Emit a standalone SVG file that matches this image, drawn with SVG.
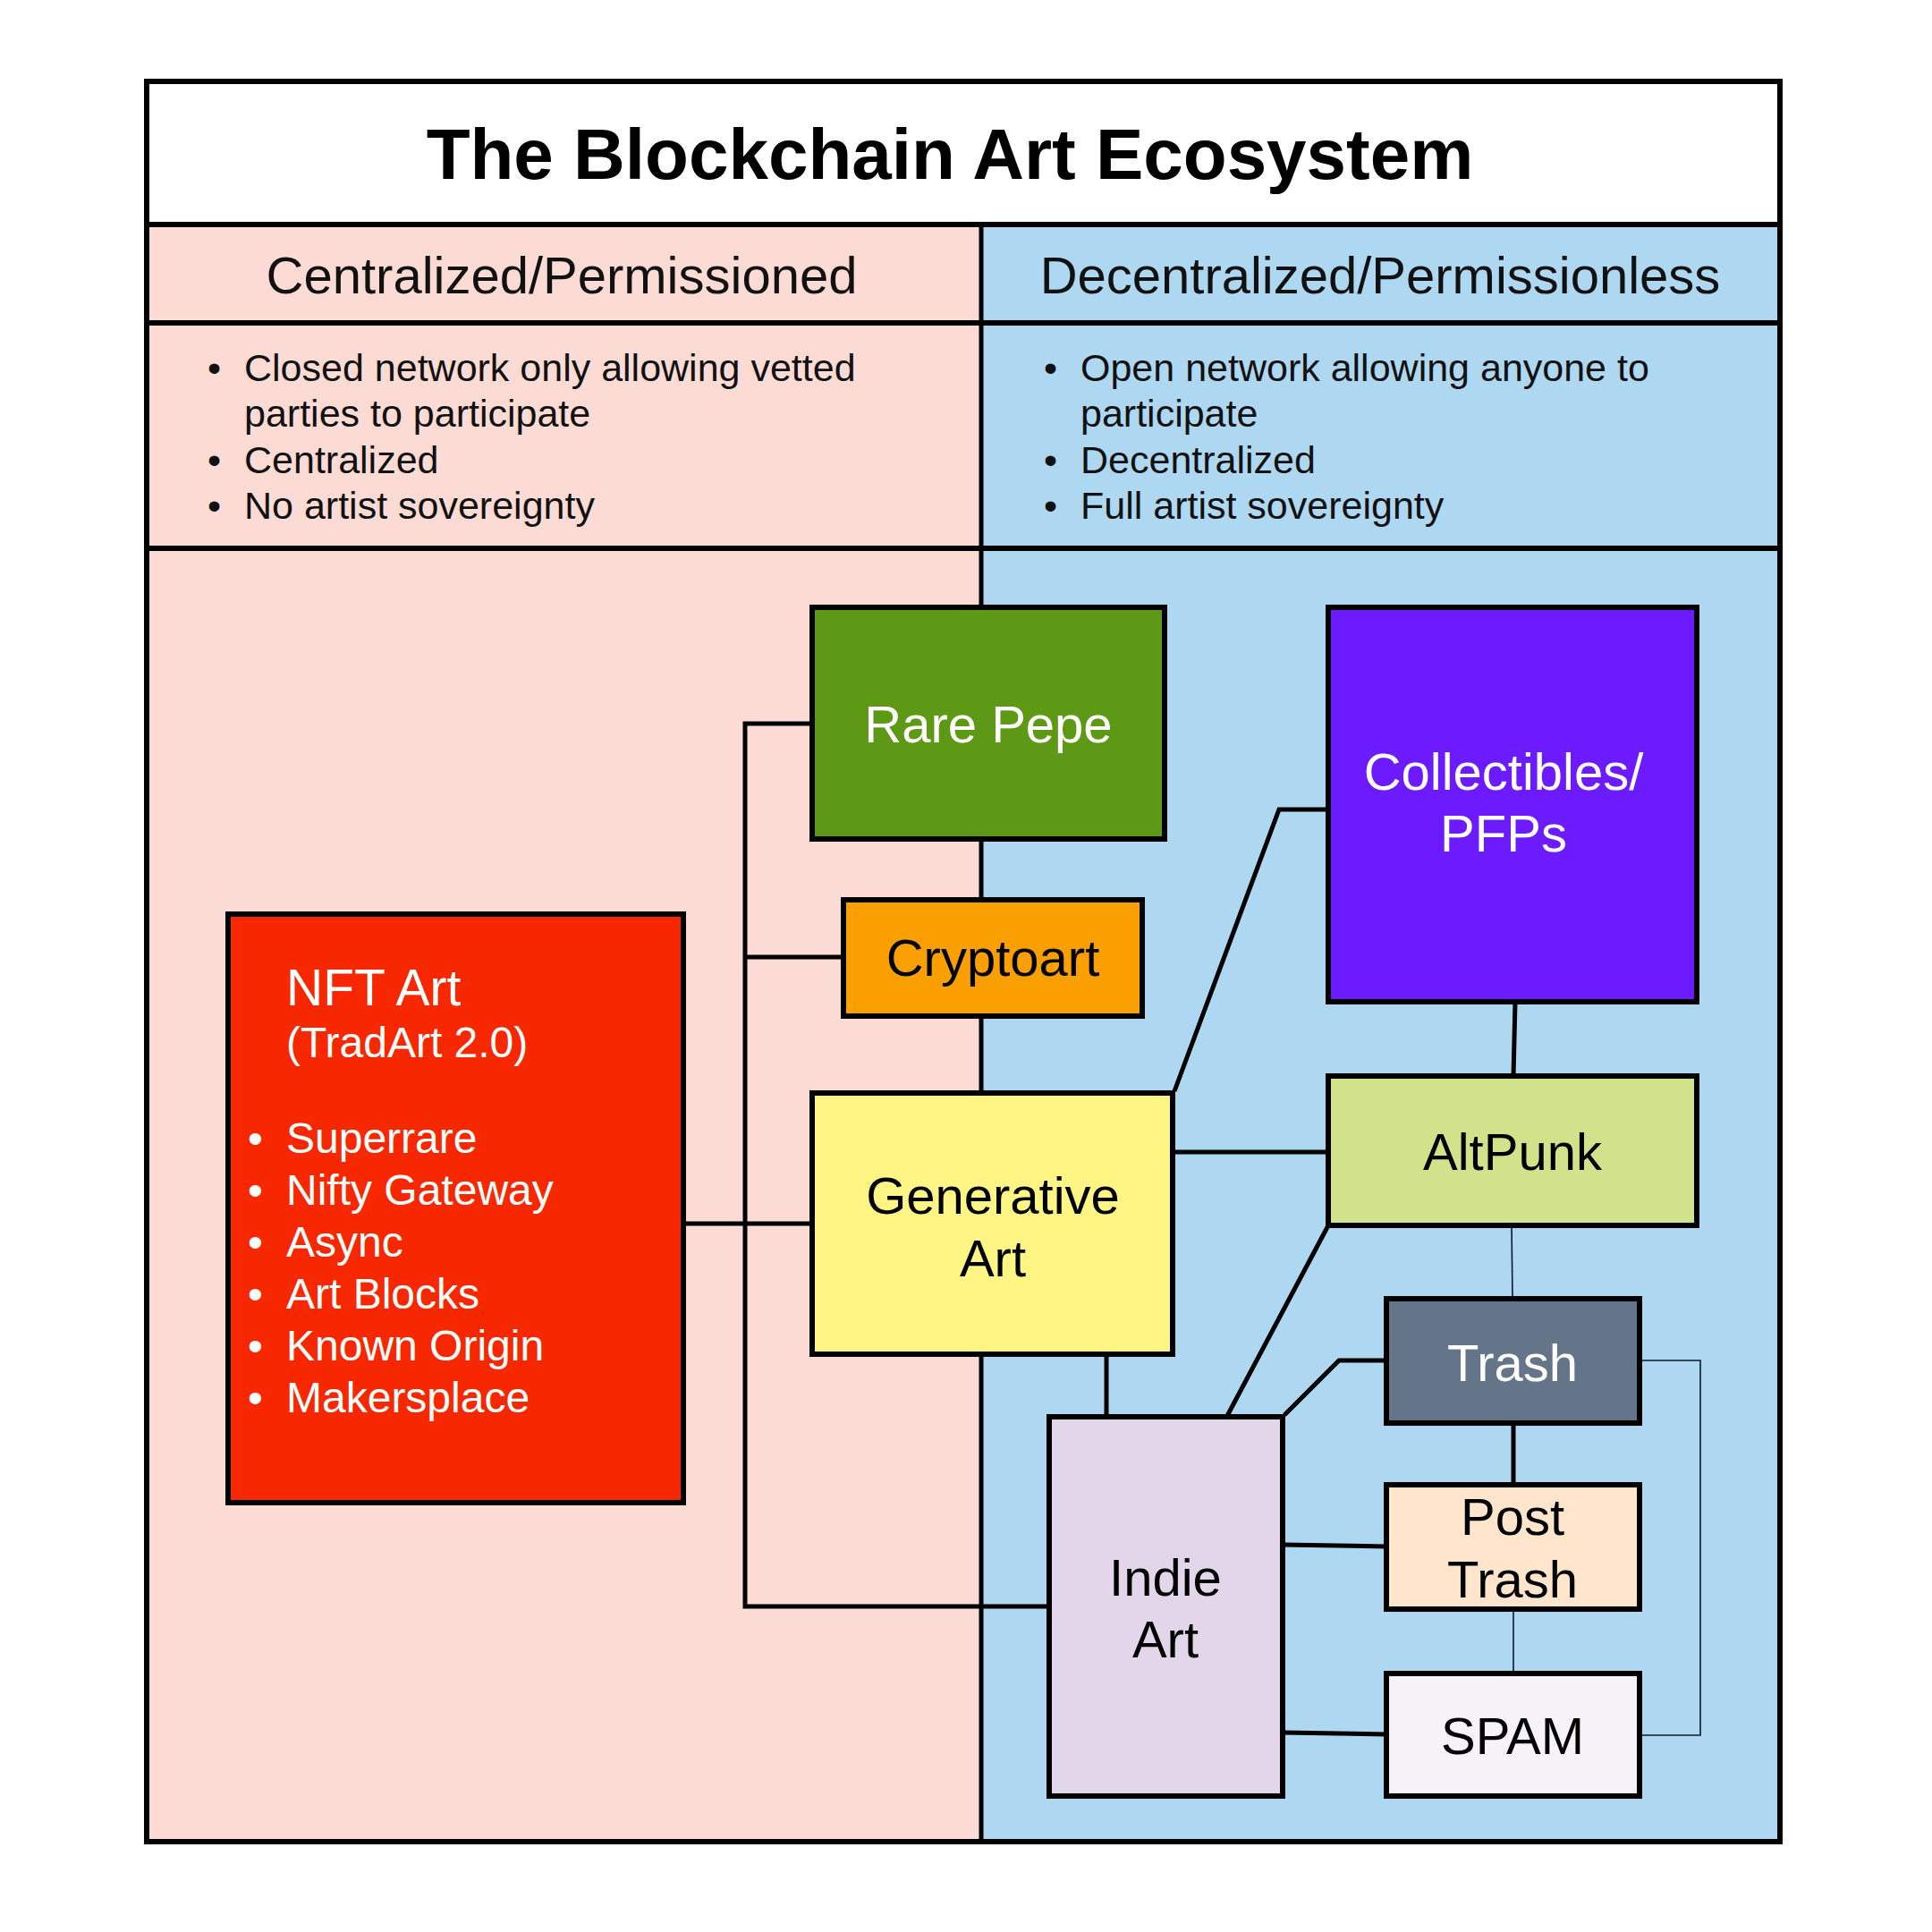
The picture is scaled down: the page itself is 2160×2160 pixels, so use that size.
<svg xmlns="http://www.w3.org/2000/svg" width="2160" height="2160" viewBox="0 0 2160 2160">
<style>
.t{font-family:"Liberation Sans",Arial,sans-serif}
.node rect{stroke:#000;stroke-width:6}
.lbl{font-family:"Liberation Sans",Arial,sans-serif;font-size:58px;text-anchor:middle}
.w{fill:#fff}.k{fill:#000}
.c{fill:none;stroke:#000;stroke-width:5}
.thin{fill:none;stroke:#0a1a2a;stroke-width:1.6}
.hb{font-family:"Liberation Sans",Arial,sans-serif;font-size:43px;fill:#111}
.nb{font-family:"Liberation Sans",Arial,sans-serif;font-size:48px;fill:#fff}
</style>
<rect width="2160" height="2160" fill="#fff"/>
<!-- panels -->
<rect x="164" y="251" width="933" height="1808" fill="#fddbd5"/>
<rect x="1097" y="251" width="893" height="1808" fill="#aed8f1"/>
<rect x="164" y="91" width="1826" height="160" fill="#fff"/>
<g fill="none" stroke="#000">
<rect x="164" y="91" width="1826" height="1968" stroke-width="6"/>
<line x1="164" y1="251" x2="1990" y2="251" stroke-width="6"/>
<line x1="164" y1="361" x2="1990" y2="361" stroke-width="6"/>
<line x1="164" y1="613" x2="1990" y2="613" stroke-width="6"/>
<line x1="1097" y1="251" x2="1097" y2="2059" stroke-width="5"/>
</g>
<text class="t" x="1062" y="200" font-size="80" font-weight="bold" text-anchor="middle">The Blockchain Art Ecosystem</text>
<text class="t" x="628" y="328" font-size="58" text-anchor="middle" fill="#111">Centralized/Permissioned</text>
<text class="t" x="1543" y="328" font-size="58" text-anchor="middle" fill="#111">Decentralized/Permissionless</text>
<g class="hb">
<text x="232" y="426">•</text><text x="273" y="426">Closed network only allowing vetted</text>
<text x="273" y="477">parties to participate</text>
<text x="232" y="529">•</text><text x="273" y="529">Centralized</text>
<text x="232" y="580">•</text><text x="273" y="580">No artist sovereignty</text>
<text x="1167" y="426">•</text><text x="1208" y="426">Open network allowing anyone to</text>
<text x="1208" y="477">participate</text>
<text x="1167" y="529">•</text><text x="1208" y="529">Decentralized</text>
<text x="1167" y="580">•</text><text x="1208" y="580">Full artist sovereignty</text>
</g>
<!-- connectors -->
<g id="connectors">
<polyline class="c" points="908,809 833,809 833,1796 1173,1796"/>
<line class="c" x1="833" y1="1070" x2="943" y2="1070"/>
<line class="c" x1="764" y1="1368" x2="908" y2="1368"/>
<line class="c" x1="1311" y1="1288" x2="1485" y2="1288"/>
<polyline class="c" points="1313,1220 1430,905 1485,905"/>
<line class="c" x1="1694" y1="1120" x2="1692" y2="1203"/>
<line class="c" x1="1484" y1="1372" x2="1372" y2="1583"/>
<line class="c" x1="1237" y1="1514" x2="1237" y2="1584"/>
<polyline class="c" points="1436,1582 1497,1521 1550,1521"/>
<line class="thin" x1="1690" y1="1370" x2="1691" y2="1452"/>
<line class="c" x1="1692" y1="1591" x2="1692" y2="1660"/>
<line class="thin" x1="1692" y1="1799" x2="1692" y2="1871"/>
<line class="c" x1="1434" y1="1727" x2="1550" y2="1729"/>
<line class="c" x1="1434" y1="1937" x2="1550" y2="1939"/>
<polyline class="thin" points="1833,1521 1901,1521 1901,1940 1833,1940"/>
</g>
<!-- nodes -->
<g id="rare-pepe" class="node"><rect x="908" y="679" width="394" height="259" fill="#5e9916"/><text class="lbl w" x="1105" y="830">Rare Pepe</text></g>
<g id="cryptoart" class="node"><rect x="943" y="1006" width="334" height="130" fill="#f9a000"/><text class="lbl k" x="1110" y="1091">Cryptoart</text></g>
<g id="generative-art" class="node"><rect x="908" y="1222" width="403" height="292" fill="#fff584"/><text class="lbl k" x="1110" y="1357">Generative</text><text class="lbl k" x="1110" y="1427">Art</text></g>
<g id="collectibles" class="node"><rect x="1485" y="679" width="412" height="441" fill="#6c1aff"/><text class="lbl w" x="1681" y="883">Collectibles/</text><text class="lbl w" x="1681" y="952">PFPs</text></g>
<g id="altpunk" class="node"><rect x="1485" y="1203" width="412" height="167" fill="#d0e28a"/><text class="lbl k" x="1691" y="1308">AltPunk</text></g>
<g id="trash" class="node"><rect x="1550" y="1452" width="283" height="139" fill="#647589"/><text class="lbl w" x="1691" y="1544">Trash</text></g>
<g id="post-trash" class="node"><rect x="1550" y="1660" width="283" height="139" fill="#fee5cc"/><text class="lbl k" x="1691" y="1716">Post</text><text class="lbl k" x="1691" y="1786">Trash</text></g>
<g id="spam" class="node"><rect x="1550" y="1871" width="283" height="137" fill="#f5f3f8"/><text class="lbl k" x="1691" y="1961">SPAM</text></g>
<g id="indie-art" class="node"><rect x="1173" y="1584" width="261" height="424" fill="#e4d6ea"/><text class="lbl k" x="1303" y="1784">Indie</text><text class="lbl k" x="1303" y="1853">Art</text></g>
<g id="nft-art" class="node"><rect x="255" y="1022" width="509" height="658" fill="#f72800"/>
<text class="t" x="320" y="1124" font-size="57" fill="#fff">NFT Art</text>
<text class="t" x="320" y="1182" font-size="48" fill="#fff">(TradArt 2.0)</text>
<g class="nb">
<text x="277" y="1289">•</text><text x="320" y="1289">Superrare</text>
<text x="277" y="1347">•</text><text x="320" y="1347">Nifty Gateway</text>
<text x="277" y="1405">•</text><text x="320" y="1405">Async</text>
<text x="277" y="1463">•</text><text x="320" y="1463">Art Blocks</text>
<text x="277" y="1521">•</text><text x="320" y="1521">Known Origin</text>
<text x="277" y="1579">•</text><text x="320" y="1579">Makersplace</text>
</g></g>
</svg>
